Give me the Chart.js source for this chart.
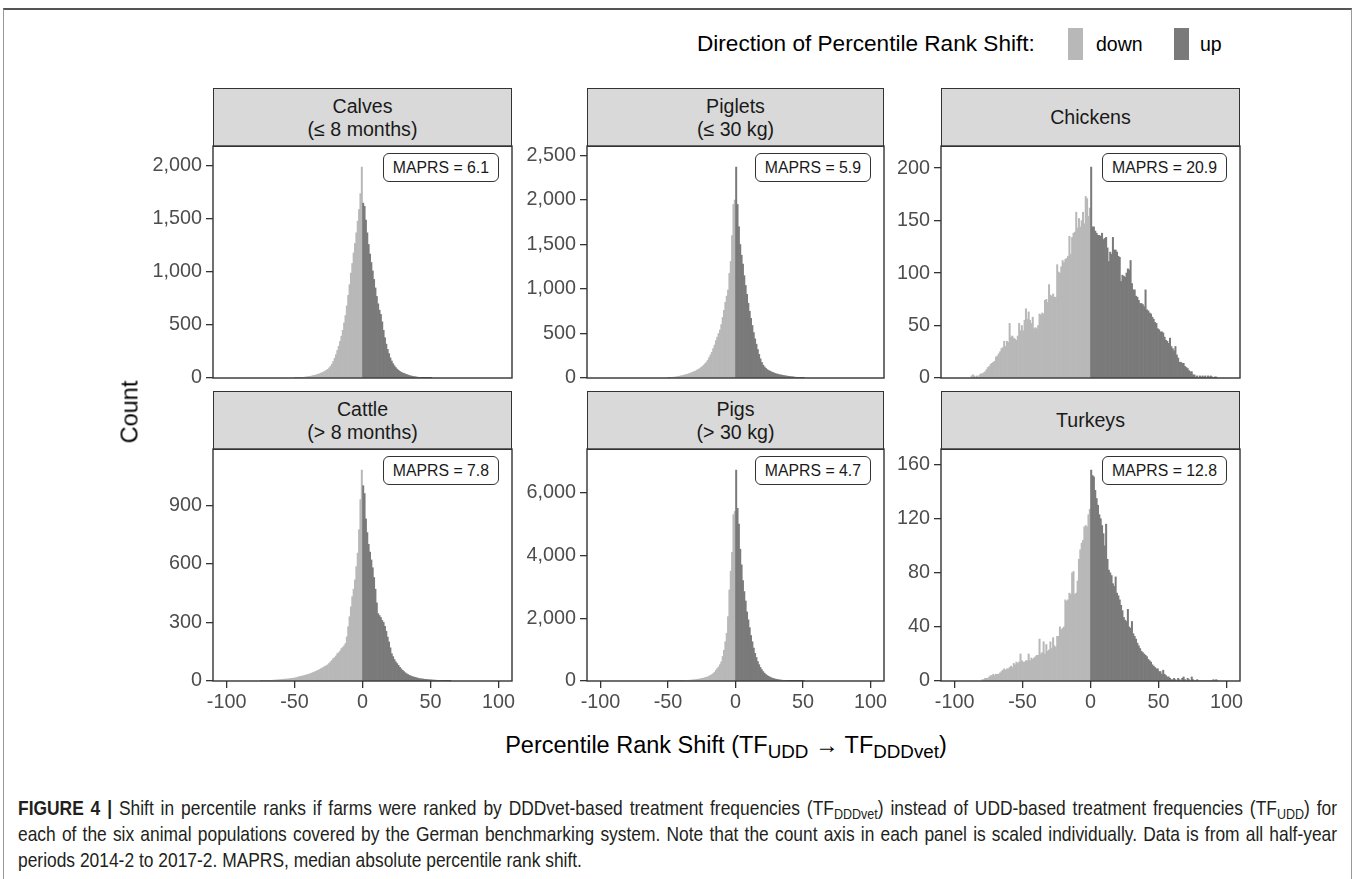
<!DOCTYPE html>
<html><head><meta charset="utf-8">
<script src="https://cdn.jsdelivr.net/npm/chart.js@4.4.1/dist/chart.umd.min.js"></script>
<style>
body{margin:0;background:#fff;width:1358px;height:879px;overflow:hidden;position:relative;font-family:"Liberation Sans",Arial,sans-serif;color:#000;}
.strip{position:absolute;background:#d9d9d9;border:1.4px solid #333;box-sizing:border-box;display:flex;align-items:center;justify-content:center;text-align:center;font-size:19.6px;line-height:23px;color:#1a1a1a;}
.lab{position:absolute;border:1px solid #333;border-radius:6px;background:#fff;font-size:15.8px;line-height:27px;height:29px;box-sizing:border-box;padding:0 9px;color:#1a1a1a;white-space:nowrap;}
.cw{position:absolute;}
#caption{position:absolute;left:18px;top:795px;width:1561px;transform:scaleX(0.845);transform-origin:0 0;font-size:20.6px;line-height:26px;color:#231f20;}
#caption div{white-space:nowrap;height:26px;}
.j{text-align:justify;text-align-last:justify;}
sub{font-size:0.72em;vertical-align:-0.3em;line-height:0;}
.t sub{font-size:0.8em;}
</style>
</head><body>
<div style="position:absolute;left:3px;top:8px;width:1349px;height:900px;border:1px solid #999;border-top:2px solid #555;box-sizing:border-box;"></div>

<script>
// ---------------- data ----------------
const panelTitles = ["Calves<br>(\u2264 8 months)", "Piglets<br>(\u2264 30 kg)", "Chickens",
                     "Cattle<br>(> 8 months)", "Pigs<br>(> 30 kg)", "Turkeys"];
const maprsValues = ["6.1", "5.9", "20.9", "7.8", "4.7", "12.8"];
const xTicks = [-100, -50, 0, 50, 100];

const calvesStart = -50;
const calvesCounts = [2,2,3,3,4,5,6,8,10,12, 14,16,19,22,25,28,32,36,41,46, 52,58,65,73,82,95,110,130,155,185,
  220,260,300,345,395,450,520,590,680,780, 880,990,1080,1180,1270,1370,1480,1590,1740,1990,
  1650,1620,1490,1370,1260,1170,1090,1010,930,850, 770,700,640,600,530,450,380,320,270,230,
  190,160,135,115,98,84,72,62,54,48, 43,38,33,28,24,20,17,14,12,10, 8,6,5,4,3,2,2,1,1,1,1];
const calvesTicks = [0, 500, 1000, 1500, 2000];

const pigletsStart = -50;
const pigletsCounts = [4,5,6,8,10,12,14,17,20,24, 27,31,35,39,43,48,54,60,66,73, 80,88,96,106,118,130,145,160,178,200,
  230,260,290,330,370,420,460,500,540,600, 680,760,850,920,990,1175,1310,1600,1950,2000,
  2370,1950,1700,1500,1380,1280,1150,1040,940,840, 750,670,590,510,440,380,320,265,215,175,
  145,125,108,95,85,77,70,63,57,51, 46,42,38,35,32,29,26,23,21,19, 17,15,13,11,9,8,6,5,4,3,2];
const pigletsTicks = [0, 500, 1000, 1500, 2000, 2500];

const chickensStart = -88;
const chickensCounts = [2,3,2,1,2,1,3,4,
  4,5,6,8,10,11,13,14,15,16, 20,21,23,25,28,29,35,30,35,34, 52,39,40,38,37,36,40,52,45,50,
  45,55,66,56,63,55,52,58,47,48, 47,50,61,60,62,61,74,75,72,89, 79,78,80,77,77,108,101,100,106,112,
  110,113,114,116,135,118,134,138,139,158, 143,152,144,150,158,147,173,171,154,162,
  201,144,144,140,138,136,136,135,138,132, 133,134,124,111,120,118,134,122,122,120,
  116,115,92,98,97,96,100,104,103,112, 90,84,84,78,77,74,71,71,70,68, 84,65,64,62,61,58,56,53,52,47,
  46,44,44,43,39,36,35,33,38,30, 28,26,30,22,19,15,15,14,14,11, 10,9,7,6,6,3,3,1,2,0,
  2,1,2,1,2,0,2,1,2,1, 0,1,1];
const chickensTicks = [0, 50, 100, 150, 200];

const cattleStart = -75;
const cattleCounts = [1,1,2,2,2,3,3,3,4,4, 5,5,6,6,7,8,8,9,10,10, 11,12,13,14,15,16,18,20,22,24,
  25,27,29,31,33,35,37,40,43,46, 49,52,55,59,63,67,71,75,79,83, 90,98,105,115,120,128,140,145,153,166,
  172,180,192,226,278,329,380,432,470,518, 586,655,775,929,1080,
  1000,960,830,760,700,660,620,580,530,470, 400,345,335,325,310,300,280,255,225,200,
  170,140,125,110,98,89,80,70,62,55, 48,42,37,33,29,26,23,21,19,17, 15,13,12,11,10,9,8,8,7,6,
  6,5,5,4,4,3,3,3,2,2, 2,2,1,1,1];
const cattleTicks = [0, 300, 600, 900];

const pigsStart = -50;
const pigsCounts = [2,3,3,4,5,6,7,8,9,11, 13,15,17,19,21,24,27,31,35,40, 45,51,58,66,75,85,95,107,120,135,
  155,180,205,235,280,340,395,450,520,610, 780,980,1250,1520,2050,2900,3500,4100,5300,5400,
  6720,5500,5000,4200,3700,3200,2850,2550,2200,1950, 1700,1450,1250,1050,880,750,620,520,430,360,
  300,250,205,175,148,125,105,88,74,62, 52,44,37,31,26,22,18,15,12,10, 8,6,5,4,3,2,2,1,1,1,1];
const pigsTicks = [0, 2000, 4000, 6000];

const turkeysStart = -80;
const turkeysCounts = [1,1,2,2,2,3,4,4,5,4, 5,5,5,6,7,8,9,8,9,9, 10,11,10,13,12,14,13,14,20,15,
  14,14,15,15,20,15,17,16,17,18, 19,19,31,20,21,29,20,27,22,23, 29,24,32,26,25,33,33,40,38,39,
  40,60,59,60,65,64,80,81,64,65, 74,90,97,102,104,114,115,114,123,127,
  156,152,151,141,135,130,123,120,115,109, 100,116,90,82,80,78,72,70,77,65,
  63,60,56,52,47,45,44,53,40,39, 44,35,33,31,28,26,24,22,21,20, 19,18,16,15,14,12,11,10,9,9,
  7,7,5,8,5,4,3,3,2,1, 1,2,1,0,2,1,0,2,3,1, 0,2,1,0,3,1,0,0,1,0, 0,0,0,0,0,0,0,0,0,0, 1,0,1,0];
const turkeysTicks = [0, 40, 80, 120, 160];

const panelStarts = [calvesStart, pigletsStart, chickensStart, cattleStart, pigsStart, turkeysStart];
const panelCounts = [calvesCounts, pigletsCounts, chickensCounts, cattleCounts, pigsCounts, turkeysCounts];
const panelTicks = [calvesTicks, pigletsTicks, chickensTicks, cattleTicks, pigsTicks, turkeysTicks];

// ---------------- layout / style ----------------
const LIGHT = '#b8b8b8', DARK = '#7a7a7a';
const colLeft = [213, 587, 941], colW = [299, 297, 299];
const rowTop = [146, 449], plotH = 232, stripH = 58;
const PADL = 90, PADT = 14, PADR = 28, XAXH = 45, XAXH_TOP = 16;
const FONT = {family: "'Liberation Sans', Arial, sans-serif", size: 19.8};

const framePlugin = {
  id: 'frame',
  afterDraw(chart) {
    const {ctx, chartArea: a} = chart;
    ctx.save();
    ctx.strokeStyle = '#333'; ctx.lineWidth = 1.4;
    ctx.strokeRect(a.left, a.top, a.right - a.left, a.bottom - a.top);
    ctx.restore();
  }
};

for (let p = 0; p < 6; p++) {
  const r = Math.floor(p / 3), c = p % 3;
  const L = colLeft[c], W = colW[c], T = rowTop[r];
  const bottomRow = r === 1;
  const xh = bottomRow ? XAXH : XAXH_TOP;

  // strip
  const s = document.createElement('div');
  s.className = 'strip';
  s.style.left = L + 'px'; s.style.top = (T - stripH) + 'px';
  s.style.width = W + 'px'; s.style.height = (stripH + 1) + 'px';
  s.innerHTML = panelTitles[p];
  document.body.appendChild(s);

  // canvas
  const cw = document.createElement('div');
  cw.className = 'cw';
  const cwW = PADL + W + PADR, cwH = PADT + plotH + xh;
  cw.style.left = (L - PADL) + 'px'; cw.style.top = (T - PADT) + 'px';
  cw.style.width = cwW + 'px'; cw.style.height = cwH + 'px';
  const cv = document.createElement('canvas');
  cv.width = cwW; cv.height = cwH;
  cv.style.width = cwW + 'px'; cv.style.height = cwH + 'px';
  cw.appendChild(cv);
  document.body.appendChild(cw);

  const counts = panelCounts[p], start = panelStarts[p];
  const data = counts.map((v, i) => ({x: start + i + 0.5, y: v}));
  const colors = counts.map((v, i) => (start + i < 0 ? LIGHT : DARK));
  const ymax = Math.max(...counts) * 1.1;
  const ticks = panelTicks[p];

  new Chart(cv, {
    type: 'bar',
    data: {datasets: [{data, backgroundColor: colors, borderWidth: 0,
                       barPercentage: 1.0, categoryPercentage: 1.0}]},
    options: {
      responsive: false, animation: false, events: [],
      layout: {padding: {left: 0, top: PADT, right: PADR, bottom: 0}},
      plugins: {legend: {display: false}, tooltip: {enabled: false}},
      scales: {
        x: {
          type: 'linear', min: -110, max: 110, offset: false,
          afterBuildTicks: sc => { sc.ticks = xTicks.map(v => ({value: v})); },
          afterFit: sc => { sc.height = xh; sc.paddingLeft = 0; sc.paddingRight = 0; sc.paddingTop = 0; sc.paddingBottom = 0; },
          border: {display: false},
          grid: {display: bottomRow, offset: false, drawOnChartArea: false, drawTicks: true, tickLength: 7, color: '#333', lineWidth: 1.3},
          ticks: {display: bottomRow, font: FONT, color: '#4d4d4d', padding: 3, maxRotation: 0, autoSkip: false,
                  callback: v => String(v)}
        },
        y: {
          min: 0, max: ymax,
          afterBuildTicks: sc => { sc.ticks = ticks.map(v => ({value: v})); },
          afterFit: sc => { sc.width = PADL; sc.paddingTop = 0; sc.paddingBottom = 0; },
          border: {display: false},
          grid: {offset: false, drawOnChartArea: false, drawTicks: true, tickLength: 7, color: '#333', lineWidth: 1.3},
          ticks: {font: FONT, color: '#4d4d4d', padding: 4, autoSkip: false,
                  callback: v => Number(v).toLocaleString('en-US')}
        }
      }
    },
    plugins: [framePlugin]
  });

  // MAPRS label
  const lb = document.createElement('div');
  lb.className = 'lab';
  lb.textContent = 'MAPRS = ' + maprsValues[p];
  lb.style.right = (1358 - (L + W - 13)) + 'px';
  lb.style.top = (T + 7) + 'px';
  document.body.appendChild(lb);
}
</script>

<!-- axis titles -->
<div style="position:absolute;left:130px;top:412px;transform:translate(-50%,-50%) rotate(-90deg);font-size:23.5px;white-space:nowrap;">Count</div>
<div class="t" style="position:absolute;left:726px;top:745px;transform:translate(-50%,-50%);font-size:23.5px;white-space:nowrap;">Percentile Rank Shift (TF<sub>UDD</sub> &rarr; TF<sub>DDDvet</sub>)</div>

<!-- legend -->
<div style="position:absolute;left:697px;top:44px;transform:translateY(-50%);font-size:22.6px;white-space:nowrap;">Direction of Percentile Rank Shift:</div>
<div style="position:absolute;left:1068px;top:28px;width:15px;height:32px;background:#b8b8b8;"></div>
<div style="position:absolute;left:1096px;top:44px;transform:translateY(-50%);font-size:19.5px;">down</div>
<div style="position:absolute;left:1174px;top:28px;width:15px;height:32px;background:#7a7a7a;"></div>
<div style="position:absolute;left:1200px;top:44px;transform:translateY(-50%);font-size:19.5px;">up</div>

<!-- caption -->
<div id="caption">
<div class="j"><b>FIGURE 4 |</b> Shift in percentile ranks if farms were ranked by DDDvet-based treatment frequencies (TF<sub>DDDvet</sub>) instead of UDD-based treatment frequencies (TF<sub>UDD</sub>) for</div>
<div class="j">each of the six animal populations covered by the German benchmarking system. Note that the count axis in each panel is scaled individually. Data is from all half-year</div>
<div>periods 2014-2 to 2017-2. MAPRS, median absolute percentile rank shift.</div>
</div>
</body></html>
